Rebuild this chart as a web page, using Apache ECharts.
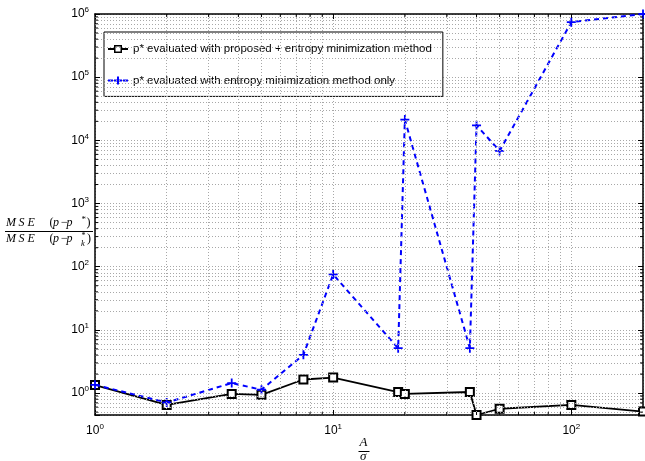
<!DOCTYPE html>
<html>
<head>
<meta charset="utf-8">
<script src="https://cdn.jsdelivr.net/npm/echarts@6/dist/echarts.min.js"></script>
<style>html,body{margin:0;padding:0;background:#fff}#c{width:645px;height:461px}</style>
</head>
<body>
<div id="c"></div>
<script>
// ---- data ----
const xValues = [1, 2, 3.75, 5, 7.5, 10, 18.75, 20, 37.5, 40, 50, 100, 200];
const proposedValues = [1.34, 0.65, 0.97, 0.94, 1.64, 1.76, 1.04, 0.97, 1.04, 0.45, 0.565, 0.65, 0.51];
const entropyOnlyValues = [1.35, 0.71, 1.44, 1.13, 4.03, 75.6, 5.13, 21300, 5.13, 17300, 6800, 743000, 1000000];
const seriesNames = ['p* evaluated with proposed + entropy minimization method', 'p* evaluated with entropy minimization method only'];
const xRange = [1, 200];
const yRange = [0.45, 1000000];

// minor grid values (2..9 x 10^k) inside the ranges
function minorValues(lo, hi) {
  const out = [];
  for (let e = -1; e <= 6; e++) {
    for (let m = 2; m <= 9; m++) {
      const v = m * Math.pow(10, e);
      if (v > lo * 1.0001 && v < hi * 0.9999) out.push(v);
    }
  }
  return out;
}
const xMinor = minorValues(xRange[0], xRange[1]);
const yMinor = minorValues(yRange[0], yRange[1]);

const chart = echarts.init(document.getElementById('c'), null, {renderer: 'canvas'});

function powLabel(v) {
  const l = Math.log10(v);
  const e = Math.round(l);
  if (Math.abs(l - e) > 1e-6) return '';
  return '{b|10}{s|' + e + '}';
}
const labelRich = {
  b: {fontSize: 12, fontFamily: 'Liberation Sans', color: '#000', lineHeight: 16},
  s: {fontSize: 8, fontFamily: 'Liberation Sans', color: '#000', verticalAlign: 'top', lineHeight: 16, padding: [0, 0, 8, 0]}
};
const gridDot = {type: [1, 2], color: '#a8a8a8', width: 1};

const plusPath = 'path://M4,0H6V4H10V6H6V10H4V6H0V4H4Z';
const legendIconBlack = 'path://M0,3H6V0H14V3H20V5H14V8H6V5H0Z M7.5,1.5V6.5H12.5V1.5Z';
const legendIconBlue = 'path://M0,3H5V5H0Z M6,3H9V0H11V3H14V5H11V8H9V5H6Z M15,3H20V5H15Z';

// math-style label pieces
const serif = 'Liberation Serif';
function piece(t, x, y, size, italic) {
  return {type: 'text', x: x, y: y, silent: true, style: {
    text: t, fontFamily: serif, fontStyle: italic === false ? 'normal' : 'italic',
    fontSize: size, fill: '#000', verticalAlign: 'middle', align: 'left'}};
}
function mseRow(y) {
  return [piece('M', 6, y, 12), piece('S', 18.5, y, 12), piece('E', 27.5, y, 12),
          piece('(', 49.5, y, 12, false), piece('p', 53, y, 12), piece('−', 61, y, 12, false),
          piece('p', 66.5, y, 12)];
}
const yNameGraphics = [].concat(
  mseRow(223), [piece('*', 81.5, 220, 9, false), piece(')', 86.5, 223, 12, false)],
  [{type: 'line', silent: true, shape: {x1: 5, y1: 231.5, x2: 93, y2: 231.5}, style: {stroke: '#000', lineWidth: 1}}],
  mseRow(239), [piece('*', 81.5, 236, 8, false), piece('k', 81, 243.5, 8.5), piece(')', 87, 239, 12, false)]
);
const xNameGraphics = [
  piece('A', 359.5, 442.5, 13),
  {type: 'line', silent: true, shape: {x1: 358.5, y1: 451.5, x2: 369.5, y2: 451.5}, style: {stroke: '#000', lineWidth: 1}},
  piece('σ', 360, 457, 13)
];

// minor ticks drawn through the axes' own scales
const minorTickData = xMinor.map(v => [v, yRange[0], 0]).concat(yMinor.map(v => [xRange[0], v, 1]));

const option = {
  animation: false,
  backgroundColor: '#fff',
  grid: {left: 95, right: 2, top: 14, bottom: 46, containLabel: false},
  legend: {
    data: [{name: seriesNames[0], icon: legendIconBlack}, {name: seriesNames[1], icon: legendIconBlue}],
    orient: 'vertical',
    left: 104, top: 32,
    padding: [10, 11, 9, 4],
    itemGap: 17.4,
    itemWidth: 20, itemHeight: 8,
    itemStyle: {borderWidth: 0},
    backgroundColor: '#fff',
    borderColor: '#000', borderWidth: 1,
    textStyle: {fontSize: 11.5, fontFamily: 'Liberation Sans', color: '#000', lineHeight: 14}
  },
  xAxis: [{
    type: 'log', logBase: 10, min: xRange[0], max: xRange[1],
    axisLine: {lineStyle: {color: '#000', width: 1.5}},
    axisTick: {inside: true, length: 5, lineStyle: {color: '#000'}},
    axisLabel: {formatter: powLabel, rich: labelRich, margin: 8, showMaxLabel: false},
    splitLine: {show: true, lineStyle: gridDot}
  }, {
    type: 'log', logBase: 10, min: xRange[0], max: xRange[1], position: 'top',
    axisLine: {lineStyle: {color: '#000', width: 1.5}},
    axisTick: {inside: true, length: 5, lineStyle: {color: '#000'}},
    axisLabel: {show: false}, splitLine: {show: false}
  }],
  yAxis: [{
    type: 'log', logBase: 10, min: yRange[0], max: yRange[1],
    axisLine: {show: true, lineStyle: {color: '#000', width: 1.5}},
    axisTick: {show: true, inside: true, length: 5, lineStyle: {color: '#000'}},
    axisLabel: {formatter: powLabel, rich: labelRich, margin: 6},
    splitLine: {show: true, lineStyle: gridDot}
  }, {
    type: 'log', logBase: 10, min: yRange[0], max: yRange[1], position: 'right',
    axisLine: {show: true, lineStyle: {color: '#000', width: 1.5}},
    axisTick: {show: true, inside: true, length: 5, lineStyle: {color: '#000'}},
    axisLabel: {show: false}, splitLine: {show: false}
  }],
  series: [{
    name: 'minor-grid', type: 'line', data: [], z: 1, silent: true,
    markLine: {
      silent: true, symbol: 'none', label: {show: false}, animation: false,
      lineStyle: gridDot,
      emphasis: {disabled: true},
      data: xMinor.map(v => ({xAxis: v})).concat(yMinor.map(v => ({yAxis: v})))
    }
  }, {
    name: 'minor-ticks', type: 'custom', z: 5, silent: true,
    data: minorTickData,
    encode: {x: 0, y: 1},
    clip: false,
    renderItem: function (params, api) {
      const kind = api.value(2);
      const v = kind === 0 ? api.value(0) : api.value(1);
      let a, b, lines;
      if (kind === 0) {
        a = api.coord([v, yRange[0]]); b = api.coord([v, yRange[1]]);
        lines = [[a[0], a[1], a[0], a[1] - 3], [b[0], b[1], b[0], b[1] + 3]];
      } else {
        a = api.coord([xRange[0], v]); b = api.coord([xRange[1], v]);
        lines = [[a[0], a[1], a[0] + 3, a[1]], [b[0], b[1], b[0] - 3, b[1]]];
      }
      return {type: 'group', children: lines.map(l => ({
        type: 'line', shape: {x1: l[0], y1: l[1], x2: l[2], y2: l[3]},
        style: {stroke: '#000', lineWidth: 1}
      }))};
    }
  }, {
    name: seriesNames[0], type: 'line', z: 3,
    data: xValues.map((x, i) => [x, proposedValues[i]]),
    symbol: 'emptyRect', symbolSize: 8,
    lineStyle: {color: '#000', width: 1.8},
    itemStyle: {color: '#000', borderColor: '#000', borderWidth: 1.5},
    clip: false
  }, {
    name: seriesNames[1], type: 'line', z: 4,
    data: xValues.map((x, i) => [x, entropyOnlyValues[i]]),
    symbol: plusPath, symbolSize: 9,
    lineStyle: {color: '#0000ff', width: 2, type: [5, 4]},
    itemStyle: {color: '#0000ff'},
    clip: false
  }],
  graphic: yNameGraphics.concat(xNameGraphics)
};
chart.setOption(option);
</script>
</body>
</html>
